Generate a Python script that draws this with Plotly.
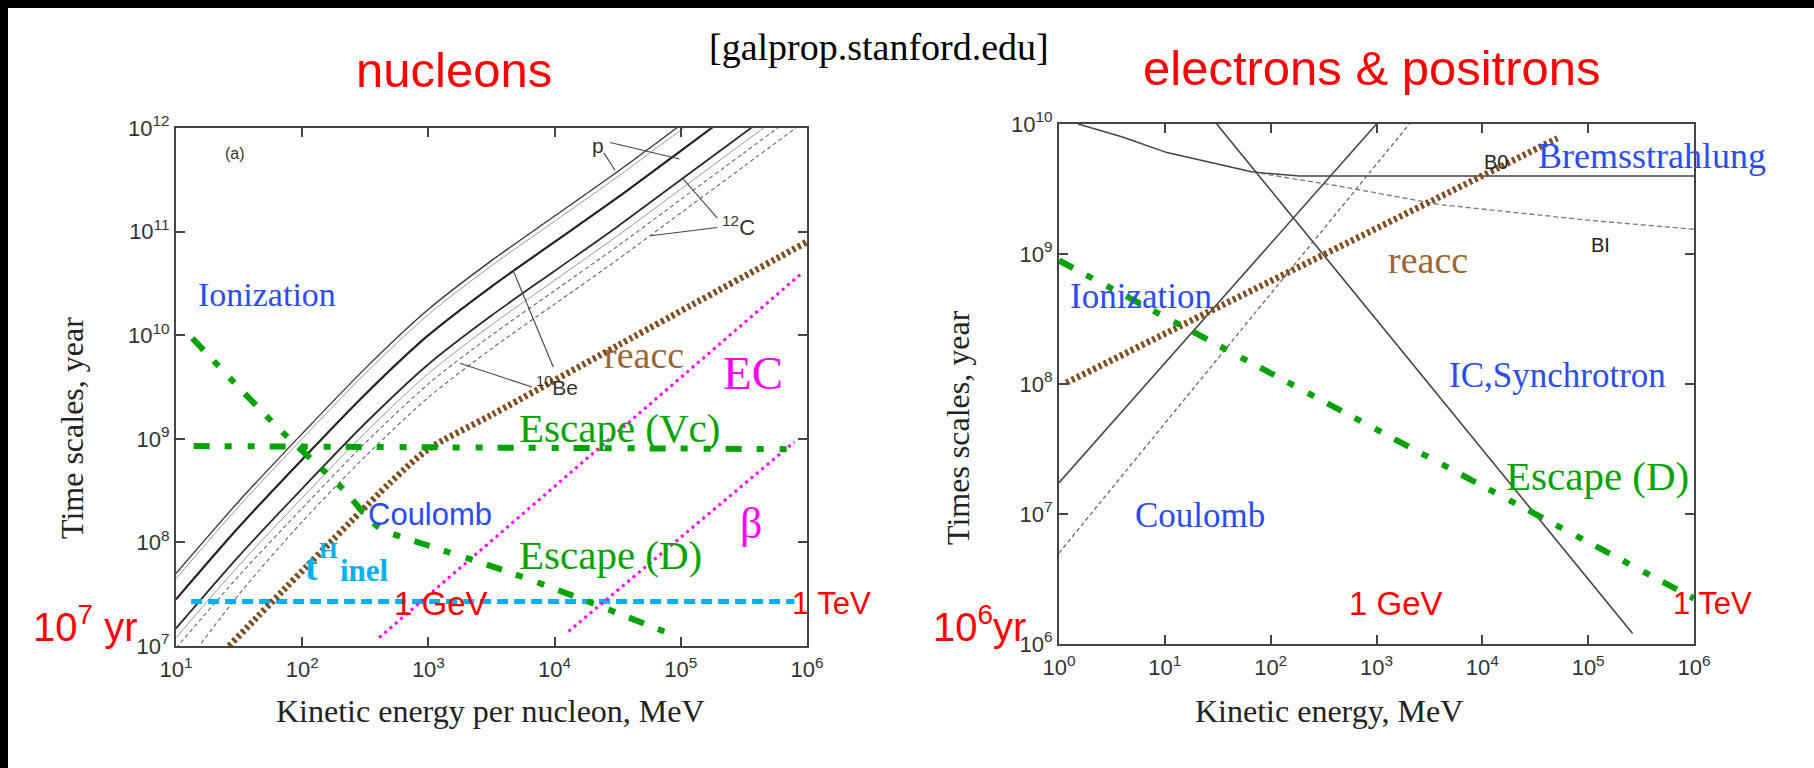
import plotly.graph_objects as go

W, H = 1814, 768

# ---------------- data (log10 values) ----------------
# Left panel "nucleons": x = log10(kinetic energy per nucleon / MeV), y = log10(time / yr)
nuc_logE = [1.0, 1.5, 2.0, 2.5, 3.0, 3.5, 4.0, 4.5, 5.0, 5.5, 6.0]
nuc_p_thin = [7.70, 8.40, 9.05, 9.68, 10.25, 10.72, 11.15, 11.58, 12.03, 12.48, 12.93]
nuc_p_gray = [7.65, 8.35, 9.00, 9.63, 10.20, 10.67, 11.10, 11.53, 11.98, 12.43, 12.88]
nuc_p_thick = [7.45, 8.15, 8.80, 9.43, 10.00, 10.47, 10.90, 11.33, 11.78, 12.23, 12.68]
nuc_c12_solid = [7.17, 7.87, 8.52, 9.15, 9.72, 10.19, 10.62, 11.05, 11.50, 11.95, 12.40]
nuc_be10_gray = [7.08, 7.78, 8.43, 9.06, 9.63, 10.10, 10.53, 10.96, 11.41, 11.86, 12.31]
nuc_c12_dash = [6.98, 7.68, 8.33, 8.96, 9.53, 10.00, 10.43, 10.86, 11.31, 11.76, 12.21]
nuc_be10_dash = [6.70, 7.50, 8.20, 8.83, 9.40, 9.87, 10.30, 10.73, 11.18, 11.63, 12.08]

nuc_reacc_logE = [1.42, 2.70, 3.00, 3.50, 4.50, 6.00]
nuc_reacc_logT = [7.00, 8.58, 8.90, 9.23, 9.90, 10.90]
nuc_ec_logE = [2.61, 5.96]
nuc_ec_logT = [7.08, 10.60]
nuc_beta_logE = [4.11, 5.90]
nuc_beta_logT = [7.14, 8.97]
nuc_escVc_logE = [1.14, 5.89]
nuc_escVc_logT = [8.93, 8.90]
nuc_escD_logE = [1.13, 1.83, 2.32, 2.60, 3.00, 3.60, 4.20, 4.95]
nuc_escD_logT = [9.97, 9.08, 8.52, 8.15, 7.97, 7.73, 7.46, 7.10]
nuc_inel_logE = [1.12, 5.90]
nuc_inel_logT = [7.43, 7.43]

# leader lines of the small labels (p, 12C, 10Be)
lead_p1 = ([4.44, 4.99], [11.86, 11.70])
lead_p2 = ([4.39, 4.48], [11.76, 11.59])
lead_c1 = ([5.29, 5.01], [11.13, 11.52])
lead_c2 = ([5.29, 4.76], [11.04, 10.96])
lead_b1 = ([3.99, 3.67], [9.69, 10.63])
lead_b2 = ([3.82, 3.25], [9.50, 9.73])

# Right panel "electrons & positrons": x = log10(kinetic energy / MeV), y = log10(time / yr)
ele_B0_logE = [0.18, 0.60, 1.02, 1.50, 1.83, 2.27, 6.00]
ele_B0_logT = [10.00, 9.90, 9.78, 9.69, 9.63, 9.60, 9.60]
ele_BI_logE = [1.83, 2.30, 2.66, 3.60, 5.00, 6.00]
ele_BI_logT = [9.63, 9.57, 9.52, 9.38, 9.26, 9.19]
ele_IC_logE = [1.49, 5.42]
ele_IC_logT = [10.00, 6.08]
ele_ion_logE = [0.00, 3.00]
ele_ion_logT = [7.24, 10.00]
ele_coul_logE = [0.00, 3.31]
ele_coul_logT = [6.70, 10.00]
ele_reacc_logE = [0.07, 4.71]
ele_reacc_logT = [8.01, 9.89]
ele_escD_logE = [0.00, 6.00]
ele_escD_logT = [8.95, 6.35]

# tick labels (decade exponents)
nuc_x_ticks = [1, 2, 3, 4, 5, 6]
nuc_y_ticks = [7, 8, 9, 10, 11, 12]
ele_x_ticks = [0, 1, 2, 3, 4, 5, 6]
ele_y_ticks = [6, 7, 8, 9, 10]

# ---------------- colours / styles ----------------
GREEN = "#00a300"
BROWN_LINE = "#7f4c1e"
BROWN_TXT = "#9a6633"
MAGENTA = "#ff00ff"
CYAN = "#00b0f0"
BLUE = "#2b4cf2"
RED = "#ff0000"
SERIF = "Liberation Serif"
SANS = "Liberation Sans"
GREEN_DASH = "16px,15px,7px,16px,7px,15px"

fig = go.Figure()


def pw(v):
    return [10 ** a for a in v]


def line(lx, ly, ax, color, width, dash="solid", smooth=False):
    fig.add_trace(go.Scatter(
        x=pw(lx), y=pw(ly), mode="lines",
        line=dict(color=color, width=width, dash=dash,
                  shape="spline" if smooth else "linear", smoothing=0.8),
        xaxis="x" if ax == 1 else "x2", yaxis="y" if ax == 1 else "y2",
        hoverinfo="skip", showlegend=False))


# nucleons: energy-loss curves
line(nuc_logE, nuc_p_thin, 1, "#333333", 1.3, smooth=True)
line(nuc_logE, nuc_p_gray, 1, "#9a9a9a", 1.0, smooth=True)
line(nuc_logE, nuc_p_thick, 1, "#222222", 2.2, smooth=True)
line(nuc_logE, nuc_c12_solid, 1, "#2a2a2a", 1.8, smooth=True)
line(nuc_logE, nuc_be10_gray, 1, "#9a9a9a", 1.0, smooth=True)
line(nuc_logE, nuc_c12_dash, 1, "#666666", 1.1, "4px,3px", smooth=True)
line(nuc_logE, nuc_be10_dash, 1, "#666666", 1.1, "4px,3px", smooth=True)
for lx, ly in (lead_p1, lead_p2, lead_c1, lead_c2, lead_b1, lead_b2):
    line(lx, ly, 1, "#444444", 1.1)

line(nuc_inel_logE, nuc_inel_logT, 1, CYAN, 5, "11px,6px")
line(nuc_ec_logE, nuc_ec_logT, 1, MAGENTA, 3, "3px,4px")
line(nuc_beta_logE, nuc_beta_logT, 1, MAGENTA, 3, "3px,4px")
line(nuc_reacc_logE, nuc_reacc_logT, 1, BROWN_LINE, 6.5, "3px,3px", smooth=True)
line(nuc_escVc_logE, nuc_escVc_logT, 1, GREEN, 6, GREEN_DASH)
line(nuc_escD_logE, nuc_escD_logT, 1, GREEN, 6, GREEN_DASH, smooth=True)

# electrons
line(ele_B0_logE, ele_B0_logT, 2, "#444444", 1.5)
line(ele_BI_logE, ele_BI_logT, 2, "#777777", 1.3, "5px,3px")
line(ele_IC_logE, ele_IC_logT, 2, "#444444", 1.6)
line(ele_ion_logE, ele_ion_logT, 2, "#444444", 1.6)
line(ele_coul_logE, ele_coul_logT, 2, "#666666", 1.3, "4px,3px")
line(ele_reacc_logE, ele_reacc_logT, 2, BROWN_LINE, 6.5, "3px,3px")
line(ele_escD_logE, ele_escD_logT, 2, GREEN, 6, GREEN_DASH)


def axis(tick_exps, rng, dom, anchor):
    return dict(
        type="log", range=rng, domain=dom, anchor=anchor,
        tickmode="array",
        tickvals=[10 ** e for e in tick_exps],
        ticktext=["10<sup>%d</sup>" % e for e in tick_exps],
        showline=True, linecolor="#444", linewidth=2, mirror="ticks",
        ticks="inside", ticklen=9, tickwidth=1.6, tickcolor="#444",
        showgrid=False, zeroline=False,
        tickfont=dict(family=SANS, size=22, color="#333"),
    )


xa1 = axis(nuc_x_ticks, [1, 6], [176 / W, 807 / W], "y")
xa1["ticklabelstandoff"] = 3
ya1 = axis(nuc_y_ticks, [7, 12], [1 - 646 / H, 1 - 128 / H], "x")
xa2 = axis(ele_x_ticks, [0, 6], [1059 / W, 1694 / W], "y2")
xa2["ticklabelstandoff"] = 3
ya2 = axis(ele_y_ticks, [6, 10], [1 - 644 / H, 1 - 124 / H], "x2")

anns = []


def txt(text, px, py, size, color, family, angle=0, xanchor="center"):
    anns.append(dict(text=text, x=px / W, y=1 - py / H, xref="paper", yref="paper",
                     showarrow=False, xanchor=xanchor, yanchor="middle",
                     textangle=angle, font=dict(size=size, color=color, family=family)))


# headings
txt("[galprop.stanford.edu]", 879, 47, 38, "#000", SERIF)
txt("nucleons", 454, 70, 49, RED, SANS)
txt("electrons &amp; positrons", 1372, 68, 49, RED, SANS)
# axis titles
txt("Time scales, year", 72, 428, 32, "#222", SERIF, -90)
txt("Times scales, year", 958, 428, 32, "#222", SERIF, -90)
txt("Kinetic energy per nucleon, MeV", 490, 711, 32, "#222", SERIF)
txt("Kinetic energy, MeV", 1329, 711, 32, "#222", SERIF)
# left panel labels
txt("(a)", 235, 153, 16, "#333", SANS)
txt("Ionization", 267, 294, 34, BLUE, SERIF)
txt("Coulomb", 430, 514, 31, BLUE, SANS)
txt("<b>t</b>", 311, 567, 38, CYAN, SERIF)
txt("<b>H</b>", 328, 550, 24, CYAN, SERIF)
txt("<b>inel</b>", 364, 570, 31, CYAN, SERIF)
txt("1 GeV", 441, 603, 33, RED, SANS)
txt("1 TeV", 831, 603, 31, RED, SANS)
txt("10<sup>7</sup> yr", 85, 624, 40, RED, SANS)
txt("Escape (Vc)", 619, 428, 41, GREEN, SERIF)
txt("Escape (D)", 610, 555, 41, GREEN, SERIF)
txt("reacc", 644, 355, 38, BROWN_TXT, SERIF)
txt("EC", 753, 373, 47, MAGENTA, SERIF)
txt("β", 751, 523, 44, MAGENTA, SERIF)
txt("p", 598, 145, 21, "#333", SANS)
txt("<sup>12</sup>C", 738, 226, 22, "#333", SANS)
txt("<sup>10</sup>Be", 557, 386, 21, "#333", SANS)
# right panel labels
txt("Ionization", 1141, 296, 35, BLUE, SERIF)
txt("Coulomb", 1200, 515, 35, BLUE, SERIF)
txt("IC,Synchrotron", 1557, 376, 35, BLUE, SERIF)
txt("Bremsstrahlung", 1652, 156, 36, BLUE, SERIF)
txt("reacc", 1428, 260, 38, BROWN_TXT, SERIF)
txt("Escape (D)", 1597, 476, 41, GREEN, SERIF)
txt("B0", 1496, 162, 20, "#222", SANS)
txt("BI", 1600, 245, 20, "#222", SANS)
txt("1 GeV", 1396, 603, 33, RED, SANS)
txt("1 TeV", 1712, 603, 31, RED, SANS)
txt("10<sup>6</sup>yr", 979, 624, 40, RED, SANS)

shapes = [
    dict(type="rect", xref="paper", yref="paper", x0=0, x1=1, y0=1 - 8 / H, y1=1,
         fillcolor="black", line=dict(width=0), layer="above"),
    dict(type="rect", xref="paper", yref="paper", x0=0, x1=8 / W, y0=0, y1=1,
         fillcolor="black", line=dict(width=0), layer="above"),
]

fig.update_layout(
    autosize=True, margin=dict(l=0, r=0, t=0, b=0, autoexpand=False),
    paper_bgcolor="white", plot_bgcolor="white", showlegend=False,
    xaxis=xa1, yaxis=ya1, xaxis2=xa2, yaxis2=ya2,
    annotations=anns, shapes=shapes,
)

fig.write_html(
    "out.html",
    config={"displayModeBar": False},
    default_width="%dpx;position:absolute;left:0px;top:0px" % W,
    default_height="%dpx" % H,
    post_script="document.body.style.margin='0';document.body.style.overflow='hidden';",
)
